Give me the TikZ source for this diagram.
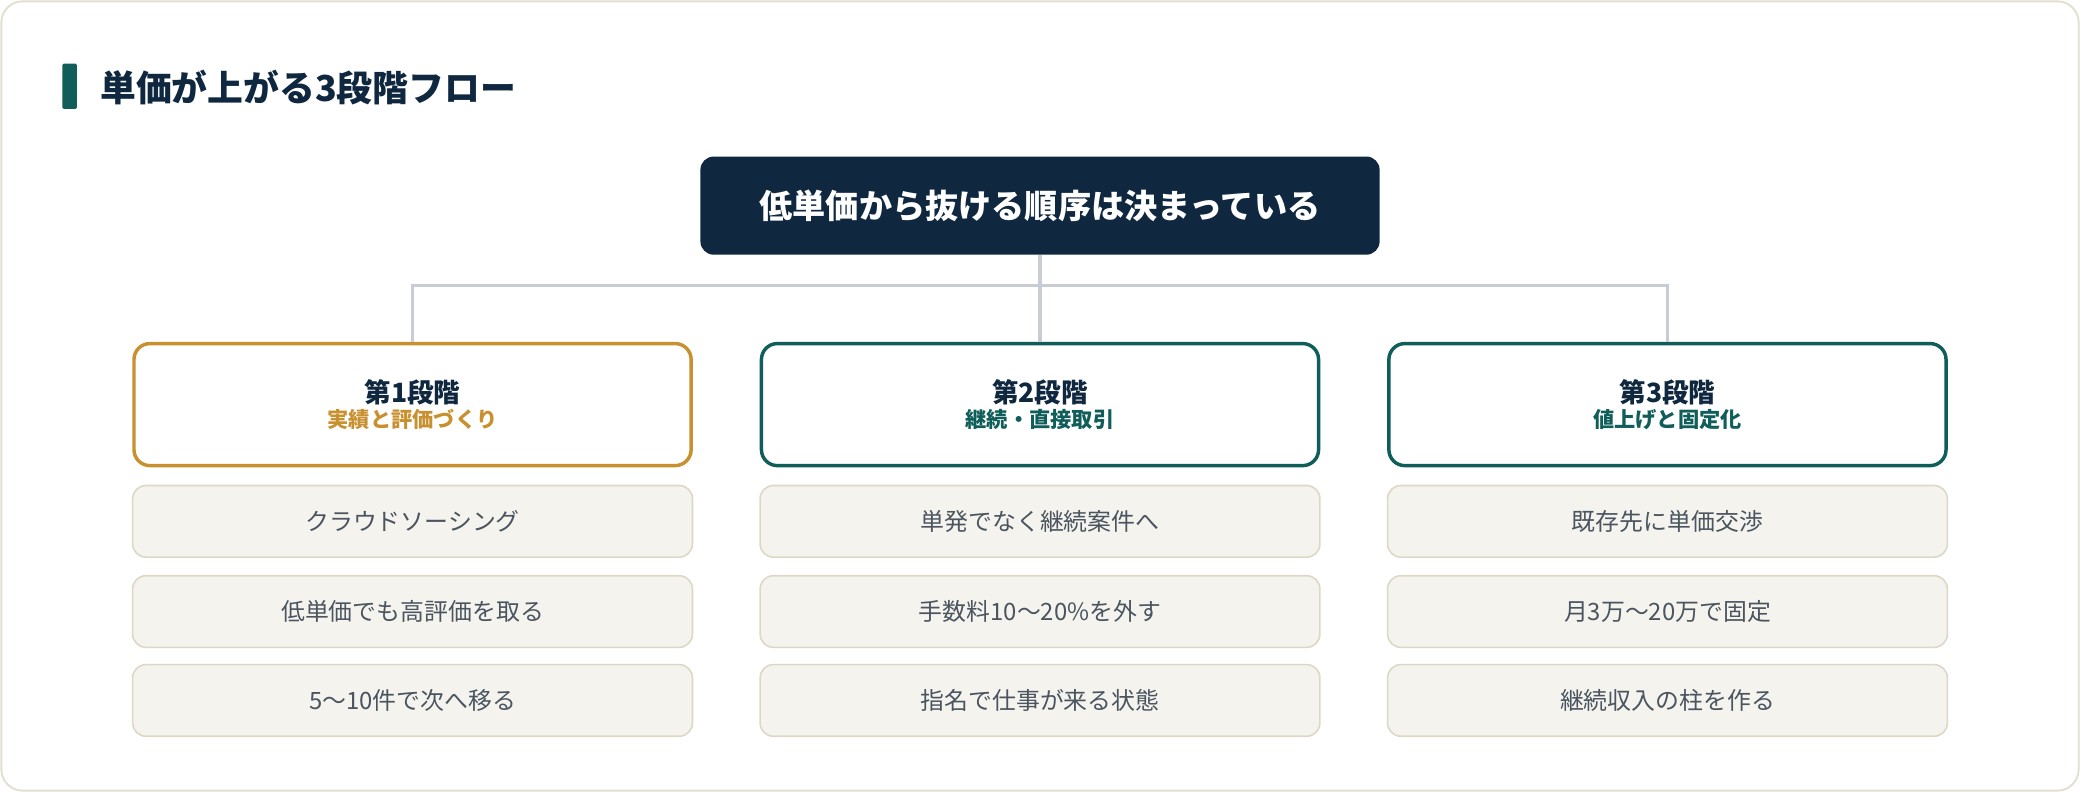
\documentclass[tikz,border=0pt]{standalone}
\usepackage{fontspec}
\setmainfont{Noto Sans CJK JP}
\usetikzlibrary{positioning}
\definecolor{navy}{HTML}{0F2840}
\definecolor{teal}{HTML}{0F5E5A}
\definecolor{gold}{HTML}{C8902F}
\definecolor{frame}{HTML}{E2DFCF}
\definecolor{itemfill}{HTML}{F5F3EE}
\definecolor{itemline}{HTML}{DDD8C6}
\definecolor{itemtext}{HTML}{4A5560}
\definecolor{link}{HTML}{C8CCD4}
\tikzset{
  top/.style={rectangle, fill=navy, rounded corners=10pt, minimum width=512pt, minimum height=74pt, text=white, font=\fontsize{25}{30}\selectfont\bfseries},
  stage/.style={rectangle, draw=#1, line width=2.6pt, fill=white, rounded corners=12pt, minimum width=420pt, minimum height=92pt, align=center},
  item/.style={rectangle, draw=itemline, line width=1.2pt, fill=itemfill, rounded corners=10pt, minimum width=422pt, minimum height=54pt, text=itemtext, font=\fontsize{18}{22}\selectfont},
  line/.style={draw=link, line width=2.4pt},
}
\begin{document}
\begin{tikzpicture}[x=1pt, y=-1pt]
		\useasboundingbox (0,0) rectangle (1568,597);
		\draw[frame, line width=1.4pt, fill=white, rounded corners=16pt] (1,1) rectangle (1567,596);
		\fill[teal, rounded corners=1pt] (47,48) rectangle (58,82);
		\node[anchor=west, text=navy, font=\fontsize{27}{32}\selectfont\bfseries] (title) at (72,66) {単価が上がる3段階フロー};
		\node [top] (order) at (784,155) {低単価から抜ける順序は決まっている};
		% stages
		\node [stage=gold] (s1) at (311,305) {{\fontsize{20}{24}\selectfont\bfseries\color{navy}第1段階}\\[2pt]{\fontsize{16}{20}\selectfont\bfseries\color{gold}実績と評価づくり}};
		\node [stage=teal] (s2) at (784,305) {{\fontsize{20}{24}\selectfont\bfseries\color{navy}第2段階}\\[2pt]{\fontsize{16}{20}\selectfont\bfseries\color{teal}継続・直接取引}};
		\node [stage=teal] (s3) at (1257,305) {{\fontsize{20}{24}\selectfont\bfseries\color{navy}第3段階}\\[2pt]{\fontsize{16}{20}\selectfont\bfseries\color{teal}値上げと固定化}};
		\coordinate (hub) at (784,215);
		\path [line] (order.south) -- (hub);
		\path [line] (s1.north) |- (hub) -| (s3.north);
		\path [line] (hub) -- (s2.north);
		% items
		\node [item] (a1) at (311,393) {クラウドソーシング};
		\node [item] (a2) at (311,461) {低単価でも高評価を取る};
		\node [item] (a3) at (311,528) {5〜10件で次へ移る};
		\node [item] (b1) at (784,393) {単発でなく継続案件へ};
		\node [item] (b2) at (784,461) {手数料10〜20\%を外す};
		\node [item] (b3) at (784,528) {指名で仕事が来る状態};
		\node [item] (c1) at (1257,393) {既存先に単価交渉};
		\node [item] (c2) at (1257,461) {月3万〜20万で固定};
		\node [item] (c3) at (1257,528) {継続収入の柱を作る};
	\end{tikzpicture}
\end{document}
